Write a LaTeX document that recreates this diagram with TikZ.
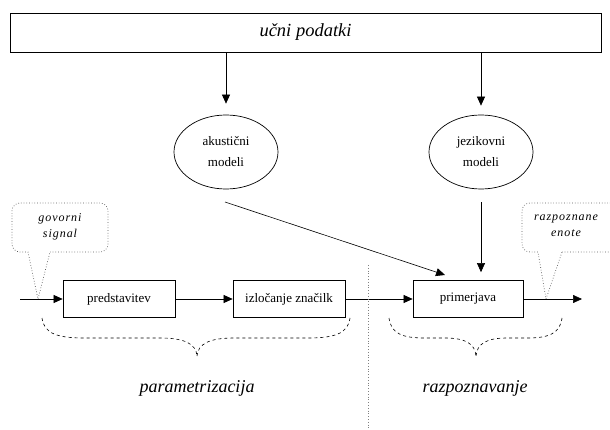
\documentclass[tikz,border=0pt]{standalone}
\usepackage{fontspec}
\setmainfont{Liberation Serif}
\newfontfamily\spacedit[LetterSpace=8]{Liberation Serif}
\usetikzlibrary{arrows.meta,shapes.geometric}
\begin{document}
\begin{tikzpicture}[x=1pt,y=-1pt,
  arr/.style={-{Triangle[length=9pt,width=8pt]}, line width=0.6pt},
  procbox/.style={draw, line width=0.7pt, minimum width=112pt, minimum height=37pt, inner sep=0pt, font=\fontsize{13}{15}\selectfont},
  model/.style={draw, ellipse, line width=0.7pt, minimum width=104pt, minimum height=74pt, inner sep=0pt, align=center, font=\fontsize{13}{21}\selectfont},
  callout/.style={draw=black!65, dotted, line width=0.7pt},
  bracepath/.style={dashed, line width=0.6pt},
  phase/.style={font=\fontsize{18}{20}\selectfont\itshape},
  calltext/.style={align=center, font=\fontsize{12}{16}\selectfont\spacedit\itshape}
]
\path[use as bounding box] (0,0) rectangle (610,430);

% top box
\node[draw, line width=0.9pt, minimum width=591pt, minimum height=39pt, inner sep=0pt,
      font=\fontsize{18.5}{20}\selectfont\itshape] (top) at (305.5,32.5) {učni podatki};

% models
\node[model] (ac) at (226,152) {akustični\\modeli};
\node[model] (jm) at (481,152) {jezikovni\\modeli};

% process boxes
\node[procbox] (p) at (119,299) {predstavitev};
\node[procbox] (iz) at (289,299) {izločanje značilk};
\node[procbox, minimum width=110pt] (pr) at (468,299) {primerjava};

% arrows top -> models
\draw[arr, shorten >=11pt] (top.south -| ac) -- (ac.north);
\draw[arr, shorten >=9pt] (top.south -| jm) -- (jm.north);

% models -> primerjava
\coordinate (d1) at (225,202);
\coordinate (d2) at (445,275);
\draw[arr] (d1) -- (d2);
\draw[arr, shorten <=13pt, shorten >=8pt] (jm.south) -- (jm.south |- pr.north);

% main chain
\coordinate (in) at (20,299);
\coordinate (out) at (582,299);
\draw[arr] (in) -- (p.west);
\draw[arr] (p.east) -- (iz.west);
\draw[arr] (iz.east) -- (pr.west);
\draw[arr] (pr.east) -- (out);

% vertical dotted separator
\coordinate (s1) at (368,265);
\coordinate (s2) at (368,430);
\draw[gray, dotted, line width=0.8pt] (s1) -- (s2);

% callouts
\coordinate (t1) at (38,299);
\draw[callout] (50,252) [rounded corners=8pt] -- (108,252) -- (108,203) -- (12,203) -- (12,252) [sharp corners] -- (28,252) -- (t1) -- cycle;
\node[calltext] (gs) at (60,227) {govorni\\signal};

\coordinate (t2) at (546,299);
\draw[callout] (562,252) [rounded corners=8pt] -- (618,252) -- (618,203) -- (522,203) -- (522,252) [sharp corners] -- (538,252) -- (t2) -- cycle;
\node[calltext] (re) at (566,226) {razpoznane\\enote};

% braces
\draw[bracepath] (42,318) .. controls (44,334) and (58,338) .. (85,338) -- (160,338)
  .. controls (185,338) and (196,344) .. (197,356);
\draw[bracepath] (350,318) .. controls (348,334) and (334,338) .. (307,338) -- (234,338)
  .. controls (209,338) and (198,344) .. (197,356);
\draw[bracepath] (389,318) .. controls (391,334) and (403,338) .. (425,338) -- (445,338)
  .. controls (466,338) and (475,344) .. (476,356);
\draw[bracepath] (562,318) .. controls (560,334) and (548,338) .. (527,338) -- (507,338)
  .. controls (486,338) and (477,344) .. (476,356);

% phase labels
\node[phase] (pa) at (197,388) {parametrizacija};
\node[phase] (rz) at (475,388) {razpoznavanje};
\end{tikzpicture}
\end{document}
